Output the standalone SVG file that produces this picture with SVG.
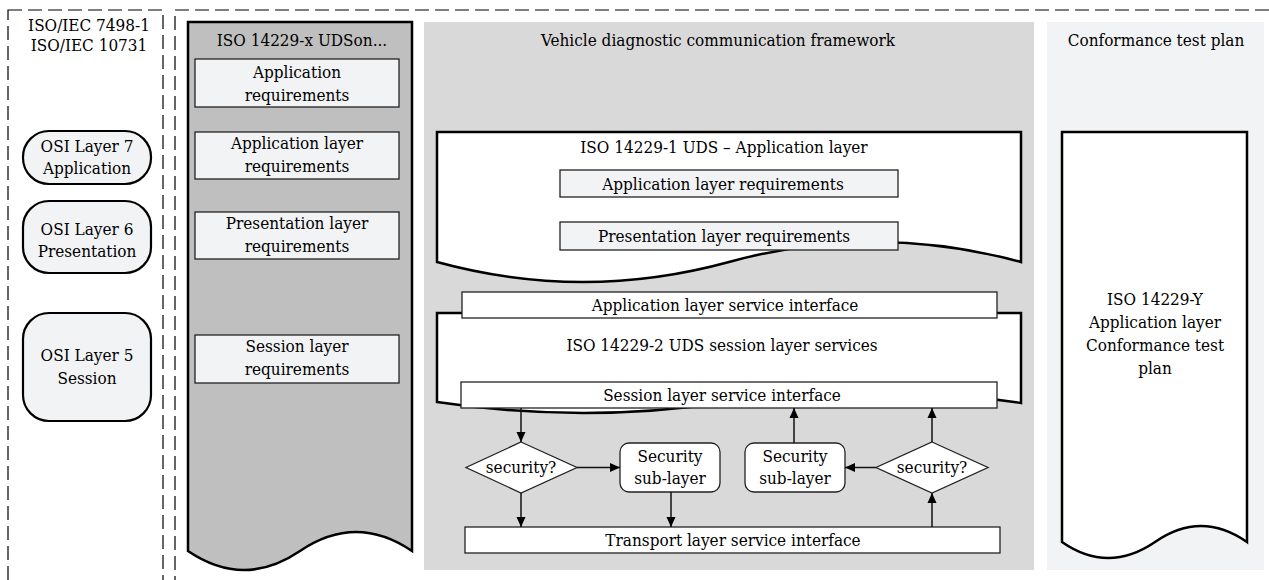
<svg xmlns="http://www.w3.org/2000/svg" width="1269" height="580" viewBox="0 0 1269 580">
<defs>
<marker id="arr" markerUnits="userSpaceOnUse" markerWidth="11" markerHeight="10" refX="10" refY="5" orient="auto">
<path d="M0,0.5 L10,5 L0,9.5 z" fill="#000"/>
</marker>
<style>
text{font-family:"DejaVu Serif Condensed","DejaVu Serif",serif;font-stretch:condensed;font-size:17px;fill:#000;text-anchor:middle;dominant-baseline:central}
.dash{fill:none;stroke:#000;stroke-width:1.2;stroke-dasharray:14 6}
.panel{stroke:none}
.doc{fill:#fff;stroke:#000;stroke-width:2.5;stroke-linejoin:miter}
.req{fill:#f2f3f5;stroke:#222;stroke-width:1.3}
.box{fill:#fff;stroke:#222;stroke-width:1.3}
.pill{fill:#f2f3f5;stroke:#000;stroke-width:2.2}
.conn{fill:none;stroke:#111;stroke-width:1.5;marker-end:url(#arr)}
</style>
</defs>
<rect width="1269" height="580" fill="#fff"/>

<g id="osi-frame">
<rect class="dash" x="8" y="10" width="155" height="600"/>
<text x="89" y="25">ISO/IEC 7498-1</text>
<text x="89" y="45">ISO/IEC 10731</text>
</g>
<g id="iso-frame">
<rect class="dash" x="175" y="10" width="1100" height="600"/>
</g>

<g id="osi7"><rect class="pill" x="23" y="131" width="128" height="53" rx="26"/><text x="87" y="146">OSI Layer 7</text><text x="87" y="168">Application</text></g>
<g id="osi6"><rect class="pill" x="23" y="201" width="128" height="72" rx="26"/><text x="87" y="229">OSI Layer 6</text><text x="87" y="251">Presentation</text></g>
<g id="osi5"><rect class="pill" x="23" y="313" width="128" height="108" rx="26"/><text x="87" y="355">OSI Layer 5</text><text x="87" y="378">Session</text></g>

<g id="uds-panel">
<path d="M188,22 H412 V551 Q356,513 300,551 Q244,589 188,551 Z" fill="#c0bfc0" stroke="#000" stroke-width="2.5"/>
<text x="302" y="40">ISO 14229-x UDSon...</text>
</g>
<g id="app-req"><rect class="req" x="195" y="59" width="204" height="48"/><text x="297" y="72">Application</text><text x="297" y="95">requirements</text></g>
<g id="app-layer-req"><rect class="req" x="195" y="132" width="204" height="47"/><text x="297" y="143">Application layer</text><text x="297" y="166">requirements</text></g>
<g id="pres-layer-req"><rect class="req" x="195" y="212" width="204" height="47"/><text x="297" y="223">Presentation layer</text><text x="297" y="246">requirements</text></g>
<g id="sess-layer-req"><rect class="req" x="195" y="335" width="204" height="48"/><text x="297" y="346">Session layer</text><text x="297" y="369">requirements</text></g>

<g id="vehicle-panel">
<rect class="panel" x="424" y="22" width="610" height="548" fill="#d9d9d9"/>
<text x="718" y="40">Vehicle diagnostic communication framework</text>
</g>
<g id="conf-panel">
<rect class="panel" x="1047" y="22" width="217" height="548" fill="#f2f3f5"/>
<text x="1156" y="40">Conformance test plan</text>
</g>

<g id="uds-app-doc">
<path class="doc" d="M437,132 H1021 V262 Q875,222 729,262 Q583,302 437,262 Z"/>
<text x="724" y="147">ISO 14229-1 UDS – Application layer</text>
</g>
<g id="uds-app-layer-req"><rect class="req" x="560" y="170" width="338" height="27"/><text x="723" y="183.5">Application layer requirements</text></g>
<g id="uds-pres-layer-req"><rect class="req" x="560" y="222" width="338" height="28"/><text x="724" y="236">Presentation layer requirements</text></g>

<g id="uds-session-doc">
<path class="doc" d="M437,313 H1021 V403 Q875,381 729,402 Q583,424 437,402 Z"/>
<text x="722" y="345">ISO 14229-2 UDS session layer services</text>
</g>
<g id="app-svc-if"><rect class="box" x="462" y="292" width="535" height="26"/><text x="725" y="305">Application layer service interface</text></g>
<g id="sess-svc-if"><rect class="box" x="461" y="382" width="536" height="26"/><text x="722" y="395">Session layer service interface</text></g>

<g id="sec-dec-l"><path class="box" d="M521,442 L577,467.5 L521,493 L466,467.5 Z"/><text x="521" y="467">security?</text></g>
<g id="sec-sub-l"><rect class="box" x="620" y="443" width="100" height="49" rx="9"/><text x="670" y="456">Security</text><text x="670" y="478">sub-layer</text></g>
<g id="sec-sub-r"><rect class="box" x="745" y="443" width="100" height="49" rx="9"/><text x="795" y="456">Security</text><text x="795" y="478">sub-layer</text></g>
<g id="sec-dec-r"><path class="box" d="M932,442 L988,467.5 L932,493 L876,467.5 Z"/><text x="932" y="467">security?</text></g>
<g id="transport-if"><rect class="box" x="465" y="527" width="535" height="26"/><text x="733" y="540">Transport layer service interface</text></g>

<g id="conf-doc">
<path class="doc" d="M1062,132 H1247 V542 Q1201,510 1155,542 Q1108,574 1062,542 Z"/>
<text x="1155" y="299">ISO 14229-Y</text>
<text x="1155" y="322">Application layer</text>
<text x="1155" y="345">Conformance test</text>
<text x="1155" y="368">plan</text>
</g>

<g id="connectors">
<path class="conn" d="M521,408 V442"/>
<path class="conn" d="M577,467.5 H620"/>
<path class="conn" d="M521,493 V527"/>
<path class="conn" d="M671,492 V527"/>
<path class="conn" d="M794,443 V408"/>
<path class="conn" d="M876,467.5 H845"/>
<path class="conn" d="M932,442 V408"/>
<path class="conn" d="M932,527 V493"/>
</g>
</svg>
